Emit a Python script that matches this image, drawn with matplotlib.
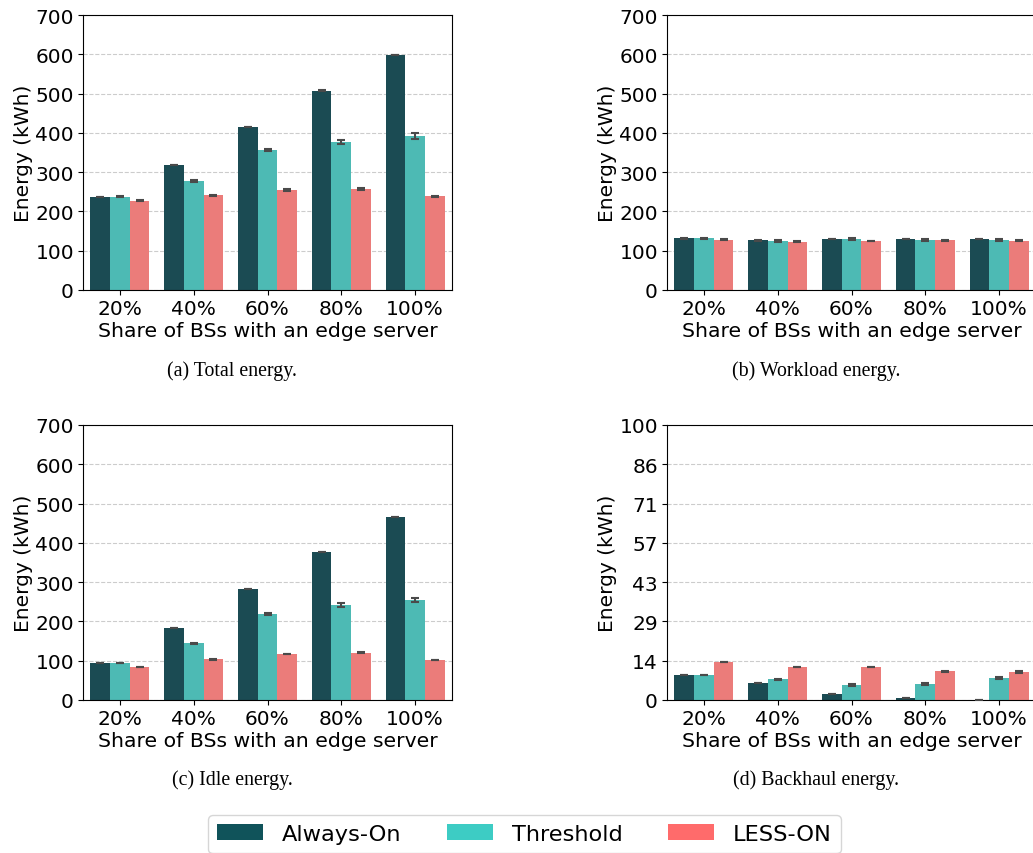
import numpy as np
import matplotlib
matplotlib.use("Agg")
import matplotlib.pyplot as plt
from matplotlib.patches import Patch

categories = ["20%", "40%", "60%", "80%", "100%"]
series = ["Always-On", "Threshold", "LESS-ON"]

total_always = [237, 318, 415, 507, 598]
total_thresh = [237, 277, 356, 377, 392]
total_less = [227, 241, 254, 257, 239]
total_err_always = [1, 1, 1, 1, 1]
total_err_thresh = [1.5, 3, 3, 6, 7]
total_err_less = [1.5, 1.5, 2, 2.5, 1.5]

work_always = [132, 127, 130, 130, 130]
work_thresh = [132, 125, 130, 127, 127]
work_less = [128, 123, 125, 127, 125]
work_err_always = [1, 1, 1, 1, 1]
work_err_thresh = [1.5, 2, 1.5, 2, 3]
work_err_less = [1.5, 1, 1, 1, 1.5]

idle_always = [94, 183, 282, 377, 466]
idle_thresh = [94, 144, 219, 242, 255]
idle_less = [84, 104, 117, 120, 102]
idle_err_always = [0.5, 0.5, 0.5, 0.5, 0.5]
idle_err_thresh = [1, 2, 3, 4, 5]
idle_err_less = [1, 1, 1, 1.5, 0.5]

back_always = [9.1, 6.2, 2.2, 0.7, 0.05]
back_thresh = [9.1, 7.6, 5.5, 5.8, 7.9]
back_less = [13.8, 12.0, 12.0, 10.5, 10.2]
back_err_always = [0.15, 0.15, 0.15, 0.1, 0.05]
back_err_thresh = [0.15, 0.15, 0.3, 0.3, 0.4]
back_err_less = [0.15, 0.15, 0.15, 0.2, 0.2]

bar_colors = ["#1b4b53", "#4dbab4", "#eb7c7a"]
legend_colors = ["#10535a", "#3dccc4", "#ff6b6b"]

W, H = 1033, 854
fig = plt.figure(figsize=(W / 100, H / 100), dpi=100)


def panel(rect, vals, errs, ymax, caption, cap_xy):
    ax = fig.add_axes(rect)
    x = np.arange(len(categories))
    w = 0.8 / 3
    for i, (v, e) in enumerate(zip(vals, errs)):
        ax.bar(x + (i - 1) * w, v, w, color=bar_colors[i], zorder=2)
        ax.errorbar(x + (i - 1) * w, v, yerr=e, fmt="none", ecolor="#4a4a4a",
                    elinewidth=1.5, capsize=3, capthick=1.5, zorder=3)
    ticks = np.linspace(0, ymax, 8)
    ax.set_ylim(0, ymax)
    ax.set_yticks(ticks)
    ax.set_yticklabels(["%.0f" % t for t in ticks])
    ax.set_xlim(-0.5, 4.5)
    ax.set_xticks(x)
    ax.set_xticklabels(categories)
    ax.tick_params(labelsize=14.5, pad=3)
    ax.set_ylabel("Energy (kWh)", fontsize=14.5, labelpad=2)
    ax.set_xlabel("Share of BSs with an edge server", fontsize=14.7, labelpad=2)
    ax.yaxis.grid(True, linestyle="--", color="#cccccc", linewidth=0.8, zorder=0)
    ax.set_axisbelow(True)
    fig.text(cap_xy[0] / W, 1 - cap_xy[1] / H, caption, ha="center", va="center",
             fontsize=14.3, family="Liberation Serif")
    return ax


aw = 369 / W
ah = 275 / H
panel([83 / W, 1 - 291 / H, aw, ah], [total_always, total_thresh, total_less],
      [total_err_always, total_err_thresh, total_err_less], 700, "(a) Total energy.", (232, 371))
panel([667 / W, 1 - 291 / H, aw, ah], [work_always, work_thresh, work_less],
      [work_err_always, work_err_thresh, work_err_less], 700, "(b) Workload energy.", (816, 371))
panel([83 / W, 1 - 701 / H, aw, ah], [idle_always, idle_thresh, idle_less],
      [idle_err_always, idle_err_thresh, idle_err_less], 700, "(c) Idle energy.", (232, 780))
panel([667 / W, 1 - 701 / H, aw, ah], [back_always, back_thresh, back_less],
      [back_err_always, back_err_thresh, back_err_less], 100, "(d) Backhaul energy.", (816, 780))

handles = [Patch(facecolor=c, label=s) for c, s in zip(legend_colors, series)]
fig.legend(handles=handles, loc="upper left", bbox_to_anchor=(208 / W, 1 - 816 / H),
           borderaxespad=0, ncol=3, frameon=True, handlelength=2.05, handleheight=0.7,
           handletextpad=0.85, columnspacing=2.0, borderpad=0.4,
           prop={"family": "DejaVu Sans", "size": 16.2})

fig.savefig("out.png", dpi=100)
